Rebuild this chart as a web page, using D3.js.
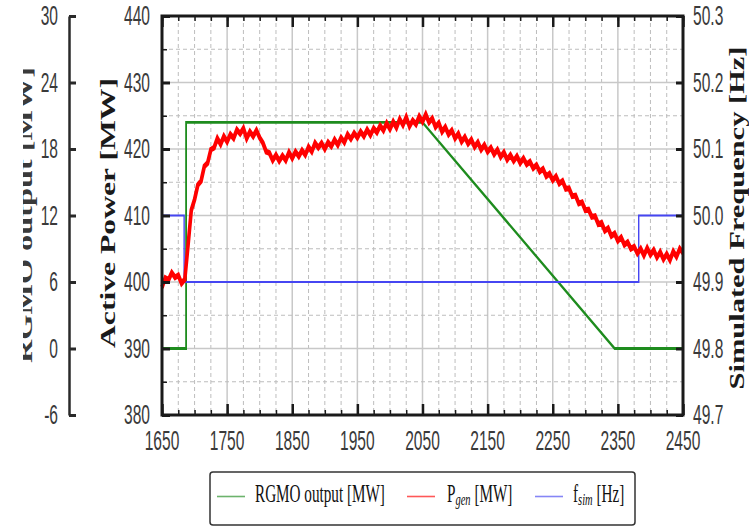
<!DOCTYPE html>
<html>
<head>
<meta charset="utf-8">
<script src="https://cdn.jsdelivr.net/npm/d3@7"></script>
<style>
  body { margin: 0; background: #fff; }
  svg { display: block; }
  .tick-label { font-family: "Liberation Sans", Arial, sans-serif; font-size: 19px; fill: #3a3a3a; }
  .title { font-family: "Liberation Serif", "Times New Roman", serif; font-weight: bold; fill: #1a1a1a; }
  .legend-text { font-family: "Liberation Serif", "Times New Roman", serif; font-size: 15.2px; fill: #111; }
</style>
</head>
<body>
<div id="chart"></div>
<script>
'use strict';

// time axis (s)
const timeTicks = [1650, 1750, 1850, 1950, 2050, 2150, 2250, 2350, 2450];
const powerTicks = [380, 390, 400, 410, 420, 430, 440];
const rgmoTicks = [-6, 0, 6, 12, 18, 24, 30];
const freqTicks = [49.7, 49.8, 49.9, 50.0, 50.1, 50.2, 50.3];
const freqLabels = ["49.7", "49.8", "49.9", "50.0", "50.1", "50.2", "50.3"];

// RGMO output [MW]
const rgmoTime = [1650, 1687, 1687, 2050, 2345, 2450];
const rgmoValues = [0, 0, 20.4, 20.4, 0, 0];

// simulated frequency [Hz]
const fsimTime = [1650, 1684, 1684, 2382, 2382, 2450];
const fsimValues = [50.0, 50.0, 49.9, 49.9, 50.0, 50.0];

// generated power [MW], one reading every 5 s from 1650
const pgenStart = 1650;
const pgenStep = 5;
const pgenValues = [
  399.2, 400.6, 400.3, 401.4, 400.7, 401.0, 399.8, 400.4, 405.5, 410.8,
  412.4, 414.6, 415.2, 417.4, 417.9, 419.9, 420.2, 421.6, 420.7, 421.9,
  421.1, 422.2, 421.6, 422.9, 422.3, 423.1, 421.6, 422.6, 421.9, 422.8,
  421.7, 420.9, 419.6, 419.4, 418.3, 419.1, 418.2, 419.0, 418.3, 419.5,
  418.6, 419.6, 418.9, 419.8, 419.1, 420.3, 419.6, 420.9, 420.2, 420.9,
  420.0, 421.0, 420.4, 421.4, 420.6, 421.7, 421.0, 422.2, 421.5, 422.4,
  421.7, 422.6, 421.9, 422.9, 422.1, 423.1, 422.5, 423.5, 422.8, 423.9,
  423.0, 424.1, 423.2, 424.5, 423.6, 424.8, 423.4, 424.3, 423.7, 424.9,
  424.1, 425.2, 424.0, 424.6, 423.3, 423.9, 422.6, 423.3, 422.2, 422.8,
  421.6, 422.3, 421.1, 421.8, 420.8, 421.4, 420.3, 421.0, 419.9, 420.6,
  419.6, 420.2, 419.2, 419.9, 418.8, 419.5, 418.4, 419.1, 418.2, 418.9,
  417.9, 418.6, 417.7, 418.1, 417.1, 417.6, 416.6, 417.0, 415.9, 416.3,
  415.3, 415.9, 414.8, 415.2, 414.0, 414.1, 412.9, 413.0, 411.8, 412.0,
  410.8, 410.9, 409.8, 409.9, 408.7, 408.9, 407.7, 408.1, 406.9, 407.3,
  406.2, 406.7, 405.6, 406.0, 405.0, 405.3, 404.3, 405.0, 404.0, 405.1,
  404.1, 404.8, 403.7, 404.5, 403.4, 404.2, 403.3, 404.6, 403.8, 405.0,
  404.4
];

const width = 749, height = 527;
const plot = {left: 162, right: 683, top: 16, bottom: 415};
const stretch = 1.6; // lines are drawn squashed then stretched back, so flat strokes come out thicker

const svg = d3.select("#chart").append("svg")
  .attr("width", width)
  .attr("height", height);

const x = d3.scaleLinear().domain([1650, 2450]).range([plot.left, plot.right]);
const yP = d3.scaleLinear().domain([380, 440]).range([plot.bottom, plot.top]);
const yR = d3.scaleLinear().domain([-6, 30]).range([plot.bottom, plot.top]);
const yF = d3.scaleLinear().domain([49.7, 50.3]).range([plot.bottom, plot.top]);

// grid
const grid = svg.append("g");
const minorTime = d3.range(1675, 2450, 25).filter(t => (t - 1650) % 100 !== 0);
const minorPower = d3.range(385, 440, 10);

grid.selectAll(".vminor").data(minorTime).enter().append("line")
  .attr("x1", d => x(d)).attr("x2", d => x(d))
  .attr("y1", plot.top).attr("y2", plot.bottom)
  .style("stroke", "#bdbdbd").style("stroke-width", 1).style("stroke-dasharray", "4,3");
grid.selectAll(".vmajor").data(timeTicks.slice(1, -1)).enter().append("line")
  .attr("x1", d => x(d)).attr("x2", d => x(d))
  .attr("y1", plot.top).attr("y2", plot.bottom)
  .style("stroke", "#c8c8c8").style("stroke-width", 1.5);
grid.selectAll(".hminor").data(minorPower).enter().append("line")
  .attr("x1", plot.left).attr("x2", plot.right)
  .attr("y1", d => yP(d)).attr("y2", d => yP(d))
  .style("stroke", "#bdbdbd").style("stroke-width", 1).style("stroke-dasharray", "4,3");
grid.selectAll(".hmajor").data(powerTicks.slice(1, -1)).enter().append("line")
  .attr("x1", plot.left).attr("x2", plot.right)
  .attr("y1", d => yP(d)).attr("y2", d => yP(d))
  .style("stroke", "#c8c8c8").style("stroke-width", 1.5);

// lines
const lineLayer = svg.append("g").attr("transform", `scale(1,${stretch})`);
const squash = s => s.copy().range(s.range().map(v => v / stretch));
const yPl = squash(yP), yRl = squash(yR), yFl = squash(yF);

const rgmoLine = d3.line().x((d, i) => x(rgmoTime[i])).y(d => yRl(d));
const fsimLine = d3.line().x((d, i) => x(fsimTime[i])).y(d => yFl(d));
const pgenLine = d3.line().x((d, i) => x(pgenStart + i * pgenStep)).y(d => yPl(d));

lineLayer.append("path").datum(rgmoValues)
  .attr("d", rgmoLine)
  .style("fill", "none").style("stroke", "#1e8c1e").style("stroke-width", 1.8);
lineLayer.append("path").datum(fsimValues)
  .attr("d", fsimLine)
  .style("fill", "none").style("stroke", "#4646f2").style("stroke-width", 1.4);
lineLayer.append("path").datum(pgenValues)
  .attr("d", pgenLine)
  .style("fill", "none").style("stroke", "#ff0000").style("stroke-width", 3.6)
  .style("stroke-linejoin", "miter");

// frame and ticks
function styleTicks(g, w) {
  g.select(".domain").remove();
  g.selectAll(".tick line").style("stroke", "#1a1a1a").style("stroke-width", w);
  g.selectAll(".tick text").remove();
}

const minorAll = d3.range(1650, 2451, 25);
svg.append("g").attr("transform", `translate(0,${plot.bottom})`)
  .call(d3.axisBottom(x).tickValues(minorAll).tickSize(-5).tickFormat(""))
  .call(styleTicks, 1.5);
svg.append("g").attr("transform", `translate(0,${plot.bottom})`)
  .call(d3.axisBottom(x).tickValues(timeTicks).tickSize(-11).tickFormat(""))
  .call(styleTicks, 2.5);
svg.append("g").attr("transform", `translate(0,${plot.top})`)
  .call(d3.axisTop(x).tickValues(minorAll).tickSize(-5).tickFormat(""))
  .call(styleTicks, 1.5);
svg.append("g").attr("transform", `translate(0,${plot.top})`)
  .call(d3.axisTop(x).tickValues(timeTicks).tickSize(-11).tickFormat(""))
  .call(styleTicks, 2.5);
svg.append("g").attr("transform", `translate(${plot.left},0)`)
  .call(d3.axisLeft(yP).tickValues(minorPower).tickSize(-5).tickFormat(""))
  .call(styleTicks, 1.5);
svg.append("g").attr("transform", `translate(${plot.left},0)`)
  .call(d3.axisLeft(yP).tickValues(powerTicks).tickSize(-8).tickFormat(""))
  .call(styleTicks, 3);
svg.append("g").attr("transform", `translate(${plot.right},0)`)
  .call(d3.axisRight(yF).tickValues(freqTicks).tickSize(-7).tickFormat(""))
  .call(styleTicks, 3);

svg.append("rect")
  .attr("x", plot.left).attr("y", plot.top)
  .attr("width", plot.right - plot.left).attr("height", plot.bottom - plot.top)
  .style("fill", "none").style("stroke", "#1a1a1a").style("stroke-width", 3);

// RGMO axis, detached on the left
const rgmoX = 69;
const rgmoAxis = svg.append("g").attr("transform", `translate(${rgmoX},0)`)
  .call(d3.axisRight(yR).tickValues(rgmoTicks).tickSize(7).tickSizeOuter(0).tickFormat(""));
rgmoAxis.select(".domain").style("stroke", "#2a2a2a").style("stroke-width", 2.5);
rgmoAxis.selectAll(".tick line").style("stroke", "#2a2a2a").style("stroke-width", 3);

// tick labels, squeezed sideways like the original
const labelScale = "scale(0.82,1.47)";
function addLabels(values, fmt, px, py, anchor) {
  svg.append("g").selectAll("text").data(values).enter().append("text")
    .attr("class", "tick-label")
    .attr("text-anchor", anchor)
    .attr("dominant-baseline", "central")
    .attr("transform", d => `translate(${px(d)},${py(d)}) ${labelScale}`)
    .text(fmt);
}
addLabels(timeTicks, d => d, d => x(d), () => 441, "middle");
addLabels(powerTicks, d => d, () => 150, d => yP(d), "end");
addLabels(rgmoTicks, d => d, () => 58, d => yR(d), "end");
addLabels(freqTicks, (d, i) => freqLabels[i], () => 693, d => yF(d), "start");

// axis titles
svg.append("defs").append("clipPath").attr("id", "rgmo-clip")
  .append("rect").attr("x", 23).attr("y", 0).attr("width", 30).attr("height", height);

svg.append("g").attr("clip-path", "url(#rgmo-clip)")
  .append("text").attr("class", "title")
  .attr("transform", "translate(32,215) rotate(-90)")
  .attr("text-anchor", "middle")
  .attr("font-size", 20)
  .attr("textLength", 296).attr("lengthAdjust", "spacingAndGlyphs")
  .style("fill", "#3a3a3a")
  .text("RGMO output [MW]");
svg.append("text").attr("class", "title")
  .attr("transform", "translate(115,213) rotate(-90)")
  .attr("text-anchor", "middle")
  .attr("font-size", 20)
  .attr("textLength", 270).attr("lengthAdjust", "spacingAndGlyphs")
  .text("Active Power [MW]");
svg.append("text").attr("class", "title")
  .attr("transform", "translate(744,218) rotate(-90)")
  .attr("text-anchor", "middle")
  .attr("font-size", 20)
  .attr("textLength", 343).attr("lengthAdjust", "spacingAndGlyphs")
  .text("Simulated Frequency [Hz]");

// legend
const legend = svg.append("g");
legend.append("rect")
  .attr("x", 210).attr("y", 472).attr("width", 425).attr("height", 53).attr("rx", 3)
  .style("fill", "#fff").style("stroke", "#333").style("stroke-width", 1.5);

const legendItems = [
  {color: "#1e8c1e", x1: 217, x2: 245, tx: 255},
  {color: "#ff0000", x1: 407, x2: 435, tx: 447},
  {color: "#4646f2", x1: 535, x2: 563, tx: 573}
];
legend.selectAll("line").data(legendItems).enter().append("line")
  .attr("x1", d => d.x1).attr("x2", d => d.x2)
  .attr("y1", 496.5).attr("y2", 496.5)
  .style("stroke", d => d.color).style("stroke-width", 1.6).style("opacity", 0.65);

const lt = legend.selectAll(".legend-text").data(legendItems).enter().append("text")
  .attr("class", "legend-text")
  .attr("transform", d => `translate(${d.tx},501.5) scale(1,1.65)`);

d3.select(lt.nodes()[0]).text("RGMO output [MW]");

const t1 = d3.select(lt.nodes()[1]);
t1.append("tspan").text("P");
t1.append("tspan").attr("font-size", "10.5px").attr("font-style", "italic").attr("dy", 2).text("gen");
t1.append("tspan").attr("dy", -2).text(" [MW]");

const t2 = d3.select(lt.nodes()[2]);
t2.append("tspan").text("f");
t2.append("tspan").attr("font-size", "10.5px").attr("font-style", "italic").attr("dy", 2).text("sim");
t2.append("tspan").attr("dy", -2).text(" [Hz]");
</script>
</body>
</html>
